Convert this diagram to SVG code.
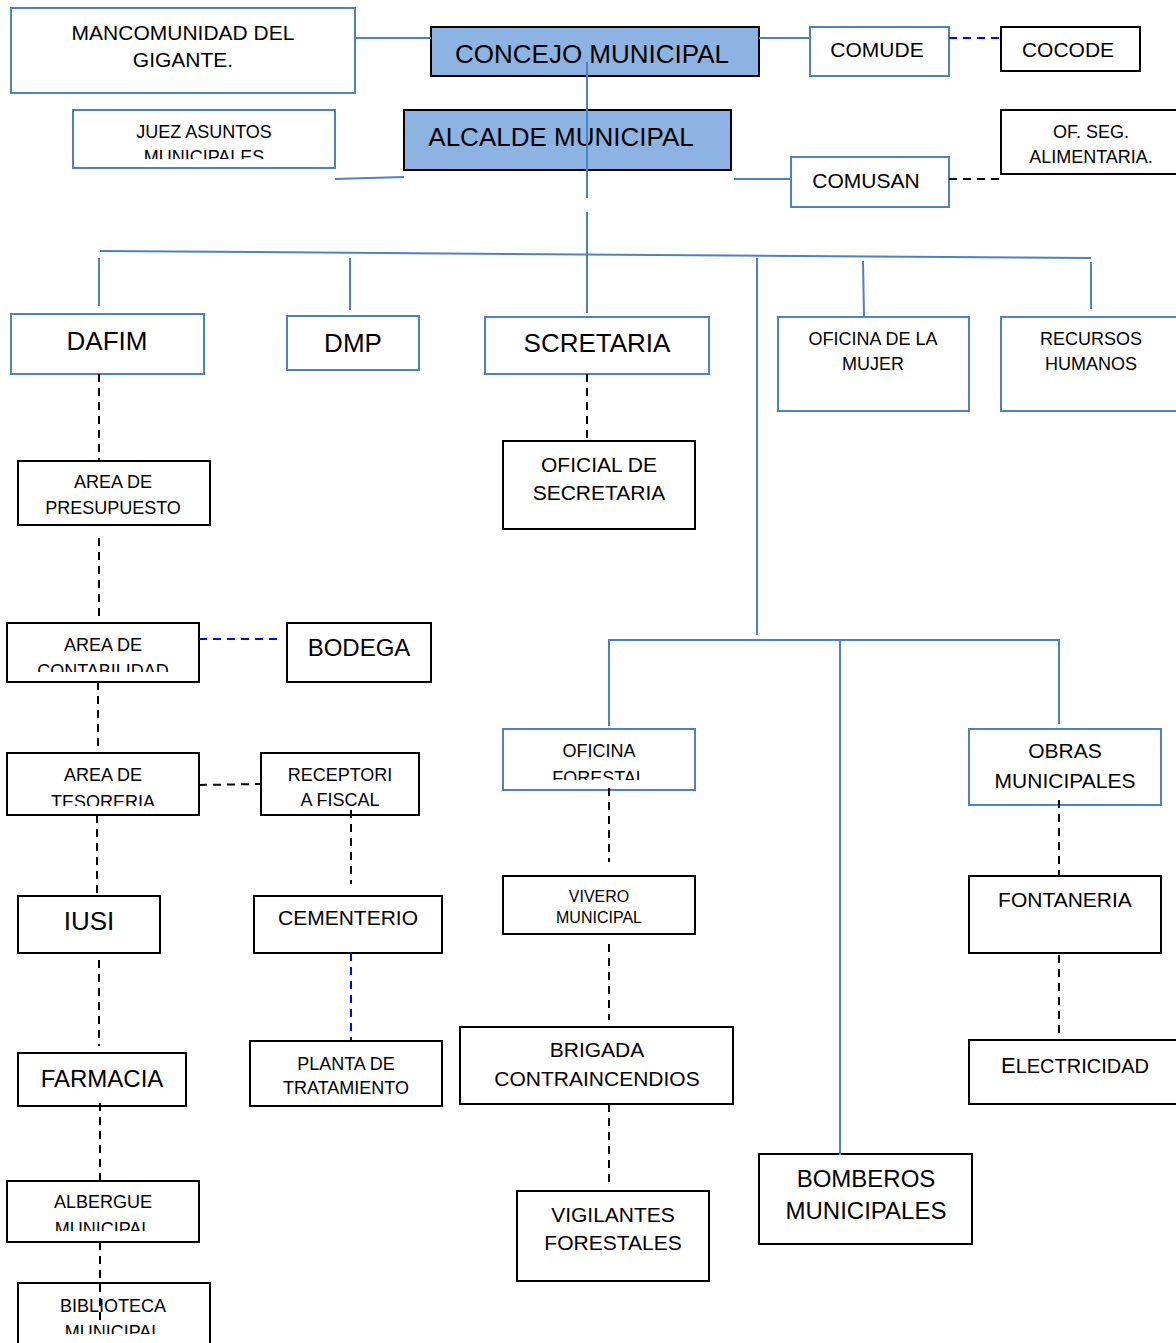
<svg xmlns="http://www.w3.org/2000/svg" width="1176" height="1343" viewBox="0 0 1176 1343">
<style>
.bb{fill:#fff;stroke:#4f81bd;stroke-width:2}
.kb{fill:#fff;stroke:#000;stroke-width:2}
.hb{fill:#8db3e2;stroke:#000;stroke-width:2}
text{font-family:"Liberation Sans",Arial,sans-serif;fill:#000;text-anchor:middle}
.s18{font-size:18px}.s21{font-size:21px}.s24{font-size:24px}.s26{font-size:26px}.s16{font-size:16px}
.sl{fill:none;stroke:#4f81bd;stroke-width:2}
.kd{fill:none;stroke:#000;stroke-width:2;stroke-dasharray:8,6}
.bd{fill:none;stroke:#0000ff;stroke-width:2;stroke-dasharray:8,6}
</style>
<defs>
<clipPath id="cJuez"><rect x="0" y="0" width="1176" height="159"/></clipPath>
<clipPath id="cCont"><rect x="0" y="0" width="1176" height="672"/></clipPath>
<clipPath id="cTeso"><rect x="0" y="0" width="1176" height="806"/></clipPath>
<clipPath id="cFor"><rect x="0" y="0" width="1176" height="780"/></clipPath>
<clipPath id="cAlb"><rect x="0" y="0" width="1176" height="1231"/></clipPath>
<clipPath id="cBib"><rect x="0" y="0" width="1176" height="1334"/></clipPath>
</defs>

<g id="mancomunidad"><rect class="bb" x="11" y="8" width="344" height="85"/><text class="s21" x="183" y="40">MANCOMUNIDAD DEL</text><text class="s21" x="183" y="67">GIGANTE.</text></g>
<g id="concejo"><rect class="hb" x="431" y="27" width="328" height="49"/><text class="s26" x="592" y="63">CONCEJO MUNICIPAL</text></g>
<g id="comude"><rect class="bb" x="810" y="27" width="139" height="49"/><text class="s21" x="877" y="57">COMUDE</text></g>
<g id="cocode"><rect class="kb" x="1001" y="27" width="139" height="44"/><text class="s21" x="1068" y="57">COCODE</text></g>
<g id="juez"><rect class="bb" x="73" y="110" width="262" height="58"/><text class="s18" x="204" y="138">JUEZ ASUNTOS</text><text class="s18" x="204" y="163" clip-path="url(#cJuez)">MUNICIPALES</text></g>
<g id="alcalde"><rect class="hb" x="404" y="110" width="327" height="60"/><text class="s26" x="561" y="146">ALCALDE MUNICIPAL</text></g>
<g id="comusan"><rect class="bb" x="791" y="157" width="158" height="50"/><text class="s21" x="866" y="188">COMUSAN</text></g>
<g id="ofseg"><rect class="kb" x="1001" y="110" width="185" height="64"/><text class="s18" x="1091" y="138">OF. SEG.</text><text class="s18" x="1091" y="163">ALIMENTARIA.</text></g>

<g id="dafim"><rect class="bb" x="11" y="314" width="193" height="60"/><text class="s26" x="107" y="350">DAFIM</text></g>
<g id="dmp"><rect class="bb" x="287" y="316" width="132" height="54"/><text class="s26" x="353" y="352">DMP</text></g>
<g id="scretaria"><rect class="bb" x="485" y="317" width="224" height="57"/><text class="s26" x="597" y="352">SCRETARIA</text></g>
<g id="mujer"><rect class="bb" x="778" y="317" width="191" height="94"/><text class="s18" x="873" y="345">OFICINA DE LA</text><text class="s18" x="873" y="370">MUJER</text></g>
<g id="rrhh"><rect class="bb" x="1001" y="317" width="185" height="94"/><text class="s18" x="1091" y="345">RECURSOS</text><text class="s18" x="1091" y="370">HUMANOS</text></g>

<g id="oficial"><rect class="kb" x="503" y="441" width="192" height="88"/><text class="s21" x="599" y="472">OFICIAL DE</text><text class="s21" x="599" y="500">SECRETARIA</text></g>
<g id="presupuesto"><rect class="kb" x="18" y="461" width="192" height="64"/><text class="s18" x="113" y="488">AREA DE</text><text class="s18" x="113" y="514">PRESUPUESTO</text></g>
<g id="contabilidad"><rect class="kb" x="7" y="623" width="192" height="59"/><text class="s18" x="103" y="651">AREA DE</text><text class="s18" x="103" y="677" clip-path="url(#cCont)">CONTABILIDAD</text></g>
<g id="bodega"><rect class="kb" x="287" y="623" width="144" height="59"/><text class="s24" x="359" y="656">BODEGA</text></g>
<g id="tesoreria"><rect class="kb" x="7" y="753" width="192" height="62"/><text class="s18" x="103" y="781">AREA DE</text><text class="s18" x="103" y="808" clip-path="url(#cTeso)">TESORERIA</text></g>
<g id="receptoria"><rect class="kb" x="261" y="753" width="158" height="62"/><text class="s18" x="340" y="781">RECEPTORI</text><text class="s18" x="340" y="806">A FISCAL</text></g>
<g id="iusi"><rect class="kb" x="18" y="896" width="142" height="57"/><text class="s26" x="89" y="930">IUSI</text></g>
<g id="cementerio"><rect class="kb" x="254" y="896" width="188" height="57"/><text class="s21" x="348" y="925">CEMENTERIO</text></g>
<g id="planta"><rect class="kb" x="250" y="1041" width="192" height="65"/><text class="s18" x="346" y="1070">PLANTA DE</text><text class="s18" x="346" y="1094">TRATAMIENTO</text></g>
<g id="farmacia"><rect class="kb" x="18" y="1053" width="168" height="53"/><text class="s24" x="102" y="1087">FARMACIA</text></g>
<g id="albergue"><rect class="kb" x="7" y="1181" width="192" height="61"/><text class="s18" x="103" y="1208">ALBERGUE</text><text class="s18" x="103" y="1235" clip-path="url(#cAlb)">MUNICIPAL</text></g>
<g id="biblioteca"><rect class="kb" x="18" y="1283" width="192" height="70"/><text class="s18" x="113" y="1312">BIBLIOTECA</text><text class="s18" x="113" y="1338" clip-path="url(#cBib)">MUNICIPAL</text></g>

<g id="forestal"><rect class="bb" x="503" y="729" width="192" height="61"/><text class="s18" x="599" y="757">OFICINA</text><text class="s18" x="599" y="784" clip-path="url(#cFor)">FORESTAL</text></g>
<g id="vivero"><rect class="kb" x="503" y="876" width="192" height="58"/><text class="s16" x="599" y="902">VIVERO</text><text class="s16" x="599" y="923">MUNICIPAL</text></g>
<g id="brigada"><rect class="kb" x="460" y="1027" width="273" height="77"/><text class="s21" x="597" y="1057">BRIGADA</text><text class="s21" x="597" y="1086">CONTRAINCENDIOS</text></g>
<g id="vigilantes"><rect class="kb" x="517" y="1191" width="192" height="90"/><text class="s21" x="613" y="1222">VIGILANTES</text><text class="s21" x="613" y="1250">FORESTALES</text></g>
<g id="bomberos"><rect class="kb" x="759" y="1154" width="213" height="90"/><text class="s24" x="866" y="1187">BOMBEROS</text><text class="s24" x="866" y="1219">MUNICIPALES</text></g>
<g id="obras"><rect class="bb" x="969" y="729" width="192" height="76"/><text class="s21" x="1065" y="758">OBRAS</text><text class="s21" x="1065" y="788">MUNICIPALES</text></g>
<g id="fontaneria"><rect class="kb" x="969" y="876" width="192" height="77"/><text class="s21" x="1065" y="907">FONTANERIA</text></g>
<g id="electricidad"><rect class="kb" x="969" y="1040" width="217" height="64"/><text x="1075" y="1073"><tspan style="font-size:22px">E</tspan><tspan style="font-size:20px">LECTRICIDAD</tspan></text></g>

<g id="connectors">
<line class="sl" x1="355" y1="38" x2="431" y2="38"/>
<line class="sl" x1="759" y1="38" x2="810" y2="38"/>
<line class="bd" x1="949" y1="38" x2="1001" y2="38"/>
<line class="sl" x1="335" y1="179" x2="404" y2="177"/>
<line class="sl" x1="734" y1="179" x2="791" y2="179"/>
<line class="kd" x1="949" y1="179" x2="1001" y2="179"/>
<line class="sl" x1="587" y1="62" x2="587" y2="198"/>
<line class="sl" x1="587" y1="212" x2="587" y2="313"/>
<line class="sl" x1="100" y1="251" x2="1091" y2="258"/>
<line class="sl" x1="99" y1="258" x2="99" y2="306"/>
<line class="sl" x1="350" y1="258" x2="350" y2="310"/>
<line class="sl" x1="757" y1="258" x2="757" y2="635"/>
<line class="sl" x1="863" y1="261" x2="864" y2="316"/>
<line class="sl" x1="1091" y1="262" x2="1091" y2="309"/>
<line class="kd" x1="587" y1="374" x2="587" y2="440"/>
<line class="kd" x1="99" y1="374" x2="99" y2="460"/>
<line class="kd" x1="99" y1="538" x2="99" y2="620"/>
<line class="bd" x1="199" y1="639" x2="278" y2="639"/>
<line class="kd" x1="98" y1="682" x2="98" y2="750"/>
<line class="kd" x1="199" y1="785" x2="261" y2="784"/>
<line class="kd" x1="351" y1="810" x2="351" y2="884"/>
<line class="kd" x1="97" y1="815" x2="97" y2="894"/>
<line class="bd" x1="351" y1="953" x2="351" y2="1040"/>
<line class="kd" x1="99" y1="960" x2="99" y2="1046"/>
<line class="kd" x1="100" y1="1103" x2="100" y2="1180"/>
<line class="kd" x1="100" y1="1242" x2="100" y2="1320"/>
<polyline class="sl" points="609,726 609,640 1059,640 1059,724"/>
<line class="sl" x1="840" y1="640" x2="840" y2="1155"/>
<line class="kd" x1="609" y1="788" x2="609" y2="862"/>
<line class="kd" x1="609" y1="944" x2="609" y2="1020"/>
<line class="kd" x1="609" y1="1104" x2="609" y2="1182"/>
<line class="kd" x1="1059" y1="800" x2="1059" y2="876"/>
<line class="kd" x1="1059" y1="955" x2="1059" y2="1036"/>
</g>
</svg>
